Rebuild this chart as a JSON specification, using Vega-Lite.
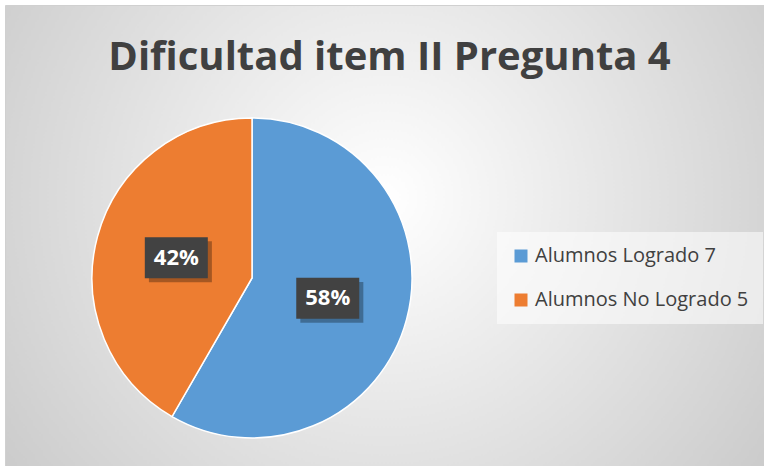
{
  "$schema": "https://vega.github.io/schema/vega-lite/v6.json",
  "width": 759,
  "height": 461,
  "autosize": {"type": "none"},
  "padding": {"left": 5, "top": 5, "right": 0, "bottom": 0},
  "background": "#ffffff",
  "config": {
    "view": {
      "stroke": "#d0d0d0",
      "fill": {
        "gradient": "radial",
        "x1": 0.5, "y1": 0.45, "r1": 0,
        "x2": 0.5, "y2": 0.45, "r2": 0.72,
        "stops": [
          {"offset": 0, "color": "#ffffff"},
          {"offset": 1, "color": "#c2c2c2"}
        ]
      }
    },
    "font": "Open Sans"
  },
  "title": {
    "text": "Dificultad item II Pregunta 4",
    "font": "Open Sans",
    "fontSize": 40,
    "fontWeight": "bold",
    "color": "#404040",
    "anchor": "middle",
    "frame": "group",
    "baseline": "alphabetic",
    "offset": -105,
    "dx": 5
  },
  "data": {
    "values": [
      {"category": "Alumnos Logrado 7", "value": 7},
      {"category": "Alumnos No Logrado 5", "value": 5}
    ]
  },
  "layer": [
    {
      "mark": {"type": "arc", "outerRadius": 160, "stroke": "#ffffff", "strokeWidth": 1.5},
      "encoding": {
        "theta": {"field": "value", "type": "quantitative", "stack": true},
        "color": {
          "field": "category",
          "type": "nominal",
          "sort": ["Alumnos Logrado 7", "Alumnos No Logrado 5"],
          "scale": {"domain": ["Alumnos Logrado 7", "Alumnos No Logrado 5"], "range": ["#5B9BD5", "#ED7D31"]},
          "legend": {
            "orient": "none",
            "legendX": 492,
            "legendY": 227,
            "title": null,
            "symbolType": "square",
            "symbolSize": 169,
            "symbolStrokeWidth": 0,
            "labelFont": "Open Sans",
            "labelFontSize": 20,
            "labelColor": "#404040",
            "labelLimit": 400,
            "labelOffset": 4,
            "rowPadding": 24,
            "padding": 14,
            "fillColor": "rgba(255,255,255,0.55)"
          }
        },
        "x": {"datum": 0, "type": "quantitative", "scale": {"domain": [-1.544, 3.2], "nice": false, "zero": false}, "axis": null},
        "y": {"datum": 0, "type": "quantitative", "scale": {"domain": [-1.175, 1.706], "nice": false, "zero": false}, "axis": null}
      }
    },
    {
      "transform": [
        {"joinaggregate": [{"op": "sum", "field": "value", "as": "total"}]},
        {"stack": "value", "groupby": [], "sort": [{"field": "category", "order": "ascending"}], "as": ["v0", "v1"]},
        {"calculate": "PI * (datum.v0 + datum.v1) / datum.total", "as": "mid"},
        {"calculate": "0.49 * sin(datum.mid)", "as": "lx"},
        {"calculate": "0.49 * cos(datum.mid)", "as": "ly"},
        {"calculate": "format(datum.value / datum.total, '.0%')", "as": "pct"}
      ],
      "layer": [
        {
          "mark": {"type": "point", "shape": "M-0.87,-0.52L1.13,-0.52L1.13,0.78L-0.87,0.78Z", "size": 3969, "filled": true, "color": "#000000", "opacity": 0.3, "strokeWidth": 0},
          "encoding": {
            "x": {"field": "lx", "type": "quantitative"},
            "y": {"field": "ly", "type": "quantitative"}
          }
        },
        {
          "mark": {"type": "point", "shape": "M-1,-0.65L1,-0.65L1,0.65L-1,0.65Z", "size": 3969, "filled": true, "color": "#424242", "opacity": 1, "strokeWidth": 0},
          "encoding": {
            "x": {"field": "lx", "type": "quantitative"},
            "y": {"field": "ly", "type": "quantitative"}
          }
        },
        {
          "mark": {"type": "text", "font": "Open Sans", "fontSize": 22, "fontWeight": "bold", "color": "#ffffff", "align": "center", "baseline": "middle"},
          "encoding": {
            "x": {"field": "lx", "type": "quantitative"},
            "y": {"field": "ly", "type": "quantitative"},
            "text": {"field": "pct", "type": "nominal"}
          }
        }
      ]
    }
  ]
}
